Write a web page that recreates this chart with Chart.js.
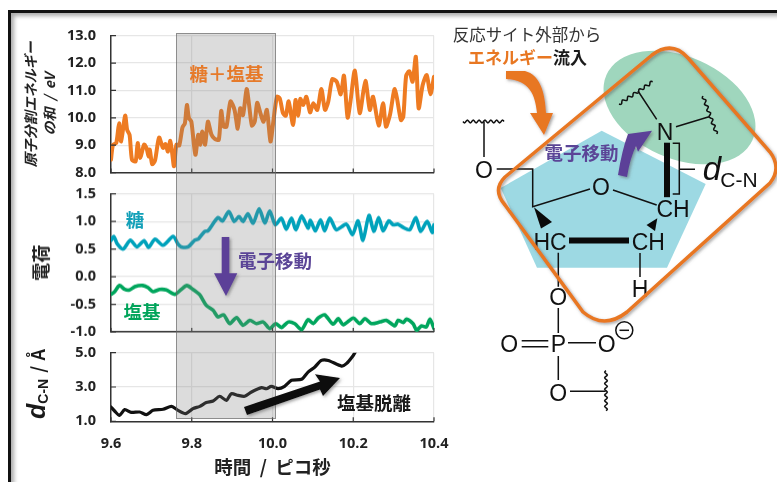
<!DOCTYPE html>
<html>
<head>
<meta charset="utf-8">
<script src="https://cdn.jsdelivr.net/npm/chart.js@4"></script>
<style>
  html, body { margin: 0; padding: 0; background: #fff; overflow: hidden; }
  body { width: 777px; height: 482px; position: relative; }
  #frame { position: absolute; left: 8px; top: 10px; width: 900px; height: 600px; border: 3.5px solid #111; box-shadow: inset 3px 3px 4px #aaa; }
  .panel { position: absolute; left: 0; width: 480px; }
  #band { position: absolute; top: 33px; height: 386px; box-sizing: border-box; background: rgba(127,127,127,.27); border: 1px solid rgba(100,100,100,.65); }
  #overlay { position: absolute; left: 0; top: 0; }
  #overlay text { font-family: "Noto Sans CJK JP", sans-serif; }
  #overlay .chem { font-family: "Liberation Sans", Arial, sans-serif; font-size: 23px; fill: #111; text-anchor: middle; }
  #overlay .note { font-weight: 700; font-size: 18.5px; text-anchor: middle; }
</style>
</head>
<body>
<div id="frame"></div>
<div class="panel" style="top:11.7px;height:184.3px"><canvas id="energyChart"></canvas></div>
<div class="panel" style="top:170.3px;height:184.7px"><canvas id="chargeChart"></canvas></div>
<div class="panel" style="top:328.7px;height:153.3px"><canvas id="distChart"></canvas></div>
<div id="band"></div>
<svg id="overlay" width="777" height="482" xmlns="http://www.w3.org/2000/svg">
  <defs>
    <filter id="soft" x="-20%" y="-20%" width="150%" height="150%"><feDropShadow dx="1.5" dy="1.5" stdDeviation="1.5" flood-color="#555" flood-opacity=".55"/></filter>
  </defs>

  <!-- 左側のグラフ注記 -->
  <text class="note" x="226.5" y="81" fill="#e67a2a">糖＋塩基</text>
  <text class="note" x="135" y="227" fill="#12a0b8">糖</text>
  <text class="note" x="142" y="319" fill="#00a45a">塩基</text>
  <text class="note" x="275" y="268" fill="#5b4597">電子移動</text>
  <text class="note" x="374" y="410" fill="#1a1a1a">塩基脱離</text>
  <polygon points="221.7,237 229.3,237 229.3,273.3 237.3,273.3 226,296 214,273.3 221.7,273.3" fill="#5b3f98" filter="url(#soft)"/>
  <polygon points="244,407 320,381.5 315,374.3 340,378 323,396 320,389.5 247,415" fill="#0a0a0a" filter="url(#soft)"/>
  <text transform="translate(45,384) rotate(-90)" text-anchor="middle" font-weight="700" font-size="18" fill="#1a1a1a"><tspan font-style="italic" font-size="25" style="font-family:'Liberation Sans'">d</tspan><tspan font-size="14" dy="3" style="font-family:'Liberation Sans'">C-N</tspan><tspan dy="-3" dx="6">/</tspan><tspan dx="6">Å</tspan></text>

  <!-- 右側の分子図 -->
  <polygon points="601.7,130.7 705.7,184 667,267.7 537,267.7 500.7,188" fill="#9dd9e3"/>
  <ellipse cx="679.5" cy="107.5" rx="80" ry="51" transform="rotate(24 679.5 107.5)" fill="#9fd6bd"/>
  <text x="527" y="41" text-anchor="middle" font-size="16.5" fill="#333">反応サイト外部から</text>
  <text x="527.5" y="64" text-anchor="middle" font-size="17" font-weight="700"><tspan fill="#e87722">エネルギー</tspan><tspan fill="#1a1a1a">流入</tspan></text>
  <path d="M506 71 L525 71 C540 75 545 92 546 113 L553 113 L544 135 L530 113 L537 113 C535 95 530 80 506 79 Z" fill="#e87722" filter="url(#soft)"/>
  <path d="M618 175 Q622 150 628 134 L652 130.7 L638 151.7 L636 146 Q630 158 627 177 Z" fill="#5b3f98" filter="url(#soft)"/>
  <text class="note" x="581.5" y="160" fill="#5b4597">電子移動</text>

  <g stroke="#111" stroke-width="1.5" fill="none">
    <path d="M484 121.5 V157 M496.7 169 H532.7 V206.7 L590 189 M613 190 L656.7 205"/>
    <path d="M656.7 119.3 L638 91 M676 126.7 L709 116.7"/>
    <path d="M672.7 143.3 H679.3 V194 H672.7 M679.3 169.3 H695"/>
    <path d="M558.3 252.7 V286.7 M558.3 308 V333 M521.7 340.7 H548.3 M521.7 346.7 H548.3 M568 342.7 H596"/>
    <path d="M558.3 356 V380 M570 391.3 H605.7 M640 253 V277"/>
    <path id="wave1"/><path id="wave2"/><path id="wave3"/><path id="wave4"/>
    <circle cx="624.3" cy="330.3" r="8.5"/>
    <path d="M619.5 330.3 H629"/>
  </g>
  <rect x="664" y="142.7" width="6" height="54.5" fill="#0a0a0a"/>
  <rect x="569" y="237.5" width="60" height="6" fill="#0a0a0a"/>
  <polygon points="534,207.3 541,228.5 552,222" fill="#0a0a0a"/>
  <polygon points="657.3,218.3 646.5,225 655,231" fill="#0a0a0a"/>
  <g>
    <text class="chem" x="484" y="178">O</text>
    <text class="chem" x="601" y="194.5">O</text>
    <text class="chem" x="673" y="217">CH</text>
    <text class="chem" x="665" y="139.5">N</text>
    <text class="chem" x="550" y="249.5">HC</text>
    <text class="chem" x="648.3" y="249.5">CH</text>
    <text class="chem" x="640" y="297">H</text>
    <text class="chem" x="558.3" y="304.5">O</text>
    <text class="chem" x="558.3" y="352">P</text>
    <text class="chem" x="509.3" y="352">O</text>
    <text class="chem" x="606.7" y="352">O</text>
    <text class="chem" x="558.3" y="400.5">O</text>
    <text x="712" y="180" text-anchor="middle" font-style="italic" font-size="33" style="font-family:'Liberation Sans'" fill="#111">d</text>
    <text x="739" y="187" text-anchor="middle" font-size="21" style="font-family:'Liberation Sans'" fill="#111">C-N</text>
  </g>

  <path d="M505 177 L652 55 Q672 40 688 58 L770 152 Q782 168 770 183 L627 312 Q604 330 583 312 L505 205 Q492 190 505 177 Z" fill="none" stroke="#e87722" stroke-width="3.5" filter="url(#soft)"/>
</svg>

<script>
// 時間軸とデータ
const xTicks = [9.6, 9.8, 10.0, 10.2, 10.4];
const bandRange = [9.76, 10.008];

const energyTicks = [8, 9, 10, 11, 12, 13];
const chargeTicks = [-1, -0.5, 0, 0.5, 1, 1.5];
const distTicks = [1, 3, 5];

const energyTime = [9.600,9.605,9.613,9.620,9.625,9.635,9.640,9.646,9.652,9.661,9.666,9.672,9.682,9.688,9.693,9.696,9.702,9.709,9.719,9.729,9.735,9.741,9.747,9.752,9.756,9.762,9.769,9.777,9.783,9.788,9.793,9.799,9.809,9.816,9.821,9.826,9.833,9.840,9.849,9.857,9.867,9.873,9.879,9.886,9.896,9.906,9.914,9.920,9.927,9.936,9.942,9.949,9.956,9.962,9.970,9.978,9.986,9.995,10.001,10.011,10.018,10.026,10.033,10.040,10.051,10.057,10.064,10.069,10.076,10.084,10.093,10.101,10.111,10.121,10.130,10.138,10.148,10.159,10.169,10.177,10.186,10.193,10.204,10.216,10.230,10.241,10.249,10.263,10.274,10.281,10.291,10.303,10.318,10.324,10.331,10.339,10.347,10.355,10.362,10.372,10.382,10.391,10.400];
const energy = [8.47,9.02,9.08,9.80,9.14,10.08,9.56,9.38,8.47,8.41,9.08,8.53,9.02,8.90,8.59,8.84,8.31,8.44,9.28,8.90,9.04,8.77,9.16,8.65,8.23,9.02,8.99,9.65,9.80,10.47,9.99,9.86,8.65,9.38,9.02,9.50,9.02,9.86,9.38,9.23,9.20,10.25,9.68,9.68,10.60,10.29,9.60,10.35,10.10,11.05,10.47,9.72,9.86,10.55,10.17,9.86,10.29,9.14,9.74,10.77,10.71,10.17,10.08,10.60,9.74,10.65,10.08,10.69,10.47,10.77,10.20,10.53,10.29,11.05,10.29,10.59,11.41,11.32,10.86,11.54,10.01,10.59,11.72,10.17,11.35,10.29,10.77,9.72,10.53,9.68,10.11,11.05,9.92,10.05,11.54,11.70,11.32,12.23,10.35,11.20,11.56,10.86,11.50];

const sugarTime = [9.600,9.607,9.615,9.630,9.648,9.664,9.682,9.693,9.709,9.729,9.754,9.766,9.774,9.791,9.807,9.816,9.832,9.840,9.865,9.876,9.892,9.905,9.917,9.927,9.939,9.952,9.967,9.981,9.993,10.007,10.022,10.034,10.047,10.058,10.072,10.088,10.094,10.106,10.119,10.129,10.142,10.158,10.183,10.198,10.212,10.224,10.239,10.251,10.263,10.274,10.288,10.299,10.311,10.324,10.340,10.355,10.367,10.383,10.396,10.400];
const sugarCharge = [0.66,0.73,0.60,0.50,0.66,0.54,0.65,0.53,0.68,0.57,0.73,0.59,0.54,0.54,0.66,0.68,0.82,0.83,1.07,1.01,1.18,1.00,1.09,1.00,1.14,0.97,1.23,0.97,1.19,0.94,1.06,0.86,1.06,0.85,1.10,0.88,1.02,0.83,1.03,0.83,1.06,0.85,0.95,0.76,1.01,0.66,1.11,0.82,1.07,0.83,1.01,0.94,0.95,0.89,0.85,1.07,0.82,1.00,0.80,0.94];

const baseTime = [9.600,9.609,9.621,9.634,9.646,9.659,9.679,9.692,9.704,9.721,9.737,9.758,9.774,9.788,9.803,9.820,9.836,9.853,9.865,9.879,9.894,9.911,9.927,9.944,9.960,9.977,9.993,10.008,10.022,10.039,10.055,10.072,10.088,10.101,10.113,10.129,10.150,10.163,10.175,10.200,10.216,10.229,10.245,10.266,10.282,10.303,10.311,10.324,10.332,10.348,10.357,10.369,10.381,10.390,10.400];
const baseCharge = [-0.32,-0.27,-0.16,-0.23,-0.24,-0.18,-0.16,-0.20,-0.27,-0.23,-0.24,-0.32,-0.23,-0.16,-0.23,-0.33,-0.52,-0.61,-0.73,-0.69,-0.85,-0.74,-0.88,-0.79,-0.85,-0.82,-0.94,-0.85,-0.92,-0.82,-0.85,-0.96,-0.78,-0.85,-0.75,-0.69,-0.86,-0.76,-0.87,-0.75,-0.85,-0.76,-0.85,-0.82,-0.79,-0.89,-0.79,-0.83,-0.77,-0.85,-0.97,-0.89,-0.91,-0.77,-0.94];

const distTime = [9.600,9.609,9.621,9.634,9.650,9.671,9.688,9.704,9.729,9.750,9.766,9.785,9.803,9.820,9.836,9.853,9.869,9.886,9.898,9.915,9.931,9.948,9.973,9.985,9.997,10.014,10.030,10.047,10.072,10.088,10.105,10.121,10.138,10.171,10.183,10.200,10.206];
const distance = [1.83,1.60,1.35,1.68,1.52,1.54,1.39,1.64,1.70,1.87,1.64,1.45,1.74,1.87,2.09,2.18,2.46,2.22,2.61,2.51,2.46,2.71,2.96,2.90,3.04,2.90,3.04,3.39,3.45,3.87,4.17,4.55,4.55,4.22,4.36,4.84,5.08];

const COLORS = { orange: '#ee7b22', cyan: '#00a2bb', green: '#00a65d', black: '#111111', axis: '#333333', grid: '#e6e6e6' };
const TICK_FONT = { family: "'Open Sans', sans-serif", size: 14.5, weight: '700' };
const TITLE_FONT = "'Noto Sans CJK JP', sans-serif";

const toPoints = (xs, ys) => xs.map((x, i) => ({ x: x, y: ys[i] }));

// 目盛りはプロットの内側に描く
const innerTicks = {
    id: 'innerTicks',
    afterDraw(chart) {
        const ctx = chart.ctx;
        const { x, y } = chart.scales;
        const area = chart.chartArea;
        ctx.save();
        ctx.strokeStyle = COLORS.axis;
        ctx.lineWidth = 1.2;
        ctx.beginPath();
        x.ticks.forEach(t => {
            const px = x.getPixelForValue(t.value);
            ctx.moveTo(px, area.bottom);
            ctx.lineTo(px, area.bottom - 4);
        });
        y.ticks.forEach(t => {
            const py = y.getPixelForValue(t.value);
            ctx.moveTo(area.left, py);
            ctx.lineTo(area.left + 5, py);
        });
        ctx.stroke();
        ctx.restore();
    }
};

function makePanel(id, datasets, yTicks, opts) {
    const yTitle = opts.yTitle ? {
        display: true, text: opts.yTitle, color: '#222', padding: { top: 0, bottom: 0 },
        font: { family: TITLE_FONT, size: opts.yTitleSize, weight: '700', style: opts.yTitleStyle || 'normal', lineHeight: 1.3 }
    } : { display: false };

    return new Chart(document.getElementById(id), {
        type: 'line',
        data: { datasets: datasets },
        options: {
            responsive: true,
            maintainAspectRatio: false,
            animation: false,
            events: [],
            layout: { padding: { top: opts.top, right: 46, bottom: opts.bottom, left: opts.left || 0 } },
            plugins: { legend: { display: false }, tooltip: { enabled: false } },
            elements: { point: { radius: 0 }, line: { tension: 0.25, borderCapStyle: 'round', borderJoinStyle: 'round' } },
            scales: {
                x: {
                    type: 'linear',
                    min: xTicks[0],
                    max: xTicks[xTicks.length - 1],
                    afterBuildTicks: s => { s.ticks = xTicks.map(v => ({ value: v })); },
                    afterFit: s => { s.height = opts.xHeight; },
                    grid: { color: COLORS.grid, lineWidth: 1.2, tickLength: 0 },
                    border: { color: COLORS.axis, width: 1.5 },
                    ticks: {
                        display: !!opts.xTitle, color: '#222', font: TICK_FONT, padding: 13.5,
                        maxRotation: 0, autoSkip: false, callback: v => v.toFixed(1)
                    },
                    title: opts.xTitle ? {
                        display: true, text: opts.xTitle, color: '#222', padding: { top: 6, bottom: 4 },
                        font: { family: TITLE_FONT, size: 18.5, weight: '700' }
                    } : { display: false }
                },
                y: {
                    min: yTicks[0],
                    max: yTicks[yTicks.length - 1],
                    afterBuildTicks: s => { s.ticks = yTicks.map(v => ({ value: v })); },
                    afterFit: s => { s.width = 111 - (opts.left || 0); },
                    grid: { color: COLORS.grid, lineWidth: 1.2, tickLength: 0 },
                    border: { color: COLORS.axis, width: 1.5 },
                    ticks: { color: '#222', font: TICK_FONT, padding: 15, autoSkip: false, callback: v => v.toFixed(1) },
                    title: yTitle
                }
            }
        },
        plugins: [innerTicks]
    });
}

const line = (xs, ys, color, width) => ({ data: toPoints(xs, ys), borderColor: color, borderWidth: width, fill: false });

const energyChart = makePanel('energyChart', [line(energyTime, energy, COLORS.orange, 4)], energyTicks, {
    top: 15.7, bottom: 12, xHeight: 0, left: 22,
    yTitle: ['原子分割エネルギー', 'の和  /  eV'], yTitleSize: 14, yTitleStyle: 'italic'
});

const chargeChart = makePanel('chargeChart', [
    line(sugarTime, sugarCharge, COLORS.cyan, 3.6),
    line(baseTime, baseCharge, COLORS.green, 3.6)
], chargeTicks, {
    top: 15.3, bottom: 12, xHeight: 0, left: 29,
    yTitle: '電荷', yTitleSize: 18
});

const distChart = makePanel('distChart', [line(distTime, distance, COLORS.black, 3.2)], distTicks, {
    top: 14.4, bottom: 0, xHeight: 61,
    xTitle: '時間  /  ピコ秒'
});

// 灰色の帯は時間軸のスケールから位置を決める
const band = document.getElementById('band');
const xScale = distChart.scales.x;
const bandLeft = xScale.getPixelForValue(bandRange[0]);
band.style.left = bandLeft + 'px';
band.style.width = (xScale.getPixelForValue(bandRange[1]) - bandLeft) + 'px';

// 波線 (結合の切れ目)
function wavy(id, x1, y1, x2, y2, n, amp) {
    const dx = x2 - x1, dy = y2 - y1, len = Math.hypot(dx, dy);
    const nx = -dy / len, ny = dx / len;
    let d = '';
    const steps = n * 8;
    for (let i = 0; i <= steps; i++) {
        const t = i / steps, w = Math.sin(t * n * 2 * Math.PI) * amp;
        d += (i ? 'L' : 'M') + (x1 + dx * t + nx * w).toFixed(1) + ' ' + (y1 + dy * t + ny * w).toFixed(1);
    }
    document.getElementById(id).setAttribute('d', d);
}
wavy('wave1', 463, 121.5, 504, 121.5, 7, 1.3);
wavy('wave2', 619, 104, 652.7, 81.7, 6, 1.4);
wavy('wave3', 703, 96, 716.7, 134, 6, 1.4);
wavy('wave4', 606, 370.7, 606, 410.7, 7, 1.3);
</script>
</body>
</html>
